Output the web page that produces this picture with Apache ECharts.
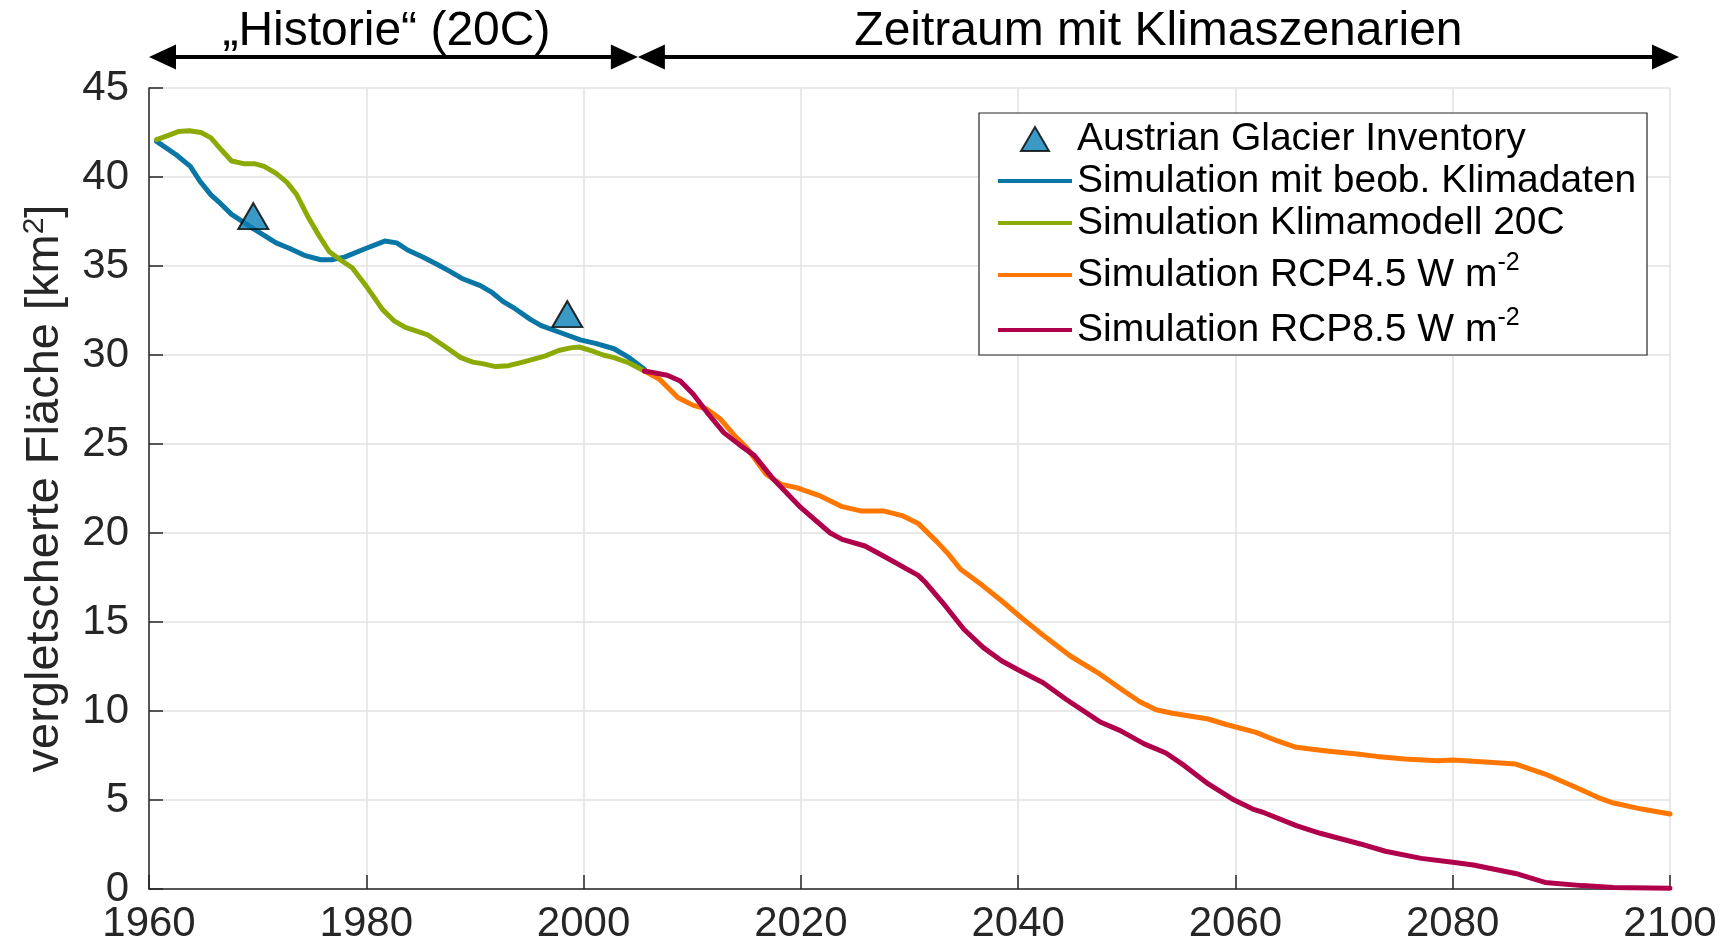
<!DOCTYPE html>
<html>
<head>
<meta charset="utf-8">
<script src="https://cdn.jsdelivr.net/npm/echarts@6/dist/echarts.min.js"></script>
<style>html,body{margin:0;padding:0;background:#fff}#c{width:1731px;height:945px}</style>
</head>
<body>
<div id="c"></div>
<script>
// ---------- data ----------
const inventoryYears = [1969.6, 1998.5];
const inventoryArea  = [37.8, 32.3];

const obsYears = [1960.7, 1962.5, 1963.8, 1964.7, 1965.7, 1966.6, 1967.6, 1969.6, 1971.7, 1972.9, 1974.3, 1975.8, 1976.8, 1978.0, 1980.0, 1981.7, 1982.8, 1983.8, 1985.2, 1986.5, 1987.7, 1988.8, 1990.5, 1991.6, 1992.6, 1993.7, 1995.1, 1996.1, 1997.9, 1999.7, 2001.1, 2002.8, 2004.2, 2005.6];
const obsArea  = [42.0, 41.25, 40.6, 39.75, 39.0, 38.5, 37.9, 37.1, 36.3, 36.0, 35.6, 35.35, 35.35, 35.5, 36.0, 36.4, 36.3, 35.9, 35.5, 35.1, 34.7, 34.3, 33.9, 33.5, 33.0, 32.6, 32.0, 31.65, 31.25, 30.85, 30.65, 30.35, 29.85, 29.2];

const mod20Years = [1960.7, 1961.6, 1962.7, 1963.7, 1964.8, 1965.7, 1966.7, 1967.6, 1968.7, 1969.7, 1970.6, 1971.7, 1972.7, 1973.6, 1974.6, 1975.7, 1976.6, 1977.6, 1978.7, 1979.9, 1981.5, 1982.6, 1983.6, 1985.6, 1987.3, 1988.7, 1989.8, 1990.8, 1991.9, 1993.1, 1994.4, 1996.5, 1997.7, 1998.8, 1999.6, 2000.7, 2001.8, 2002.8, 2004.2, 2005.6];
const mod20Area  = [42.1, 42.3, 42.55, 42.6, 42.5, 42.2, 41.5, 40.9, 40.75, 40.75, 40.6, 40.2, 39.7, 39.0, 37.8, 36.65, 35.8, 35.35, 34.9, 33.95, 32.55, 31.9, 31.55, 31.15, 30.45, 29.85, 29.6, 29.5, 29.35, 29.4, 29.6, 29.95, 30.25, 30.4, 30.45, 30.25, 30.0, 29.85, 29.55, 29.1];

const rcp45Years = [2005.6, 2007.0, 2008.7, 2010.1, 2011.3, 2012.6, 2014.0, 2015.0, 2016.8, 2018.2, 2019.6, 2021.7, 2023.8, 2025.5, 2027.6, 2029.4, 2030.8, 2032.6, 2033.6, 2034.7, 2036.7, 2038.5, 2040.3, 2042.0, 2044.8, 2047.5, 2049.7, 2051.2, 2052.7, 2054.2, 2057.5, 2059.0, 2061.9, 2063.8, 2065.6, 2068.2, 2071.2, 2073.0, 2075.6, 2078.6, 2080.0, 2083.0, 2085.8, 2088.5, 2091.1, 2093.7, 2094.8, 2097.4, 2100];
const rcp45Area  = [29.1, 28.63, 27.6, 27.17, 26.98, 26.4, 25.4, 24.8, 23.3, 22.73, 22.55, 22.1, 21.48, 21.24, 21.24, 20.96, 20.54, 19.46, 18.8, 17.96, 17.06, 16.18, 15.24, 14.4, 13.09, 12.08, 11.14, 10.52, 10.07, 9.87, 9.55, 9.27, 8.8, 8.33, 7.96, 7.77, 7.58, 7.45, 7.3, 7.21, 7.25, 7.13, 7.02, 6.46, 5.77, 5.06, 4.83, 4.49, 4.21];

const rcp85Years = [2005.6, 2007.7, 2008.9, 2010.1, 2011.5, 2012.9, 2014.3, 2015.7, 2017.5, 2020.0, 2022.7, 2023.8, 2025.9, 2027.6, 2030.8, 2031.5, 2033.3, 2035.0, 2036.8, 2038.5, 2040.2, 2042.3, 2044.4, 2047.5, 2049.4, 2051.6, 2053.6, 2055.3, 2057.5, 2059.7, 2061.6, 2062.7, 2065.6, 2067.8, 2071.5, 2073.8, 2077.1, 2080.0, 2081.9, 2086.0, 2088.5, 2091.9, 2094.8, 2100];
const rcp85Area  = [29.1, 28.86, 28.54, 27.79, 26.67, 25.64, 24.98, 24.36, 23.0, 21.42, 20.0, 19.64, 19.27, 18.71, 17.62, 17.2, 15.9, 14.59, 13.56, 12.81, 12.25, 11.59, 10.66, 9.4, 8.9, 8.15, 7.64, 6.93, 5.9, 5.06, 4.49, 4.27, 3.56, 3.13, 2.53, 2.12, 1.72, 1.5, 1.35, 0.84, 0.37, 0.19, 0.09, 0.04];

const xRange = [1960, 2100, 20];
const yRange = [0, 45, 5];
const splitYear = 2005;

const seriesNames = [
  'Austrian Glacier Inventory',
  'Simulation mit beob. Klimadaten',
  'Simulation Klimamodell 20C',
  'Simulation RCP4.5 W m-2',
  'Simulation RCP8.5 W m-2'
];
const periodLabels = ['\u201EHistorie\u201C (20C)', 'Zeitraum mit Klimaszenarien'];
const yTitle = 'vergletscherte Fl\u00E4che [km{sup|2}]';

// ---------- chart ----------
const FONT = '"Liberation Sans", Helvetica, Arial, sans-serif';
const LINE_W = 5;
const zip = (xs, ys) => xs.map((x, i) => [x, ys[i]]);
const lineSeries = (name, xs, ys, color) => ({
  name, type: 'line', data: zip(xs, ys), symbol: 'none', showSymbol: false, smooth: false,
  lineStyle: { color, width: LINE_W, join: 'round', cap: 'round' }, itemStyle: { color }, z: 2
});

const chart = echarts.init(document.getElementById('c'), null, { renderer: 'canvas' });

const legendText = {
  fontFamily: FONT, fontSize: 39, color: '#000', padding: [0, 0, 0, 0],
  rich: { sup: { fontFamily: FONT, fontSize: 25, lineHeight: 25, verticalAlign: 'top', color: '#000' } }
};
const lineIcon = 'path://M0,0 L74,0 L74,4 L0,4 Z';
const triIcon = 'path://M14,0 L28,24 L0,24 Z';
const legendItem = (name, icon) => ({ name, icon });

chart.setOption({
  animation: false,
  backgroundColor: '#fff',
  grid: { left: 149, right: 61, top: 88, bottom: 55, containLabel: false },
  xAxis: {
    type: 'value', min: xRange[0], max: xRange[1], interval: xRange[2],
    axisLine: { show: true, onZero: false, lineStyle: { color: '#262626', width: 1.5 } },
    axisTick: { show: true, inside: true, length: 14, lineStyle: { color: '#262626', width: 1.5 } },
    axisLabel: { fontFamily: FONT, fontSize: 42, color: '#262626', margin: 14, formatter: v => String(v) },
    splitLine: { show: true, lineStyle: { color: '#e2e2e2', width: 1.5 } }
  },
  yAxis: {
    type: 'value', min: yRange[0], max: yRange[1], interval: yRange[2],
    axisLine: { show: true, lineStyle: { color: '#262626', width: 1.5 } },
    axisTick: { show: true, inside: true, length: 14, lineStyle: { color: '#262626', width: 1.5 } },
    axisLabel: { fontFamily: FONT, fontSize: 42, color: '#262626', margin: 20, formatter: v => String(v) },
    splitLine: { show: true, lineStyle: { color: '#e2e2e2', width: 1.5 } },
    name: yTitle, nameLocation: 'middle', nameRotate: 90, nameGap: 66,
    nameTextStyle: {
      fontFamily: FONT, fontSize: 47, color: '#262626', lineHeight: 52,
      rich: { sup: { fontFamily: FONT, fontSize: 30, lineHeight: 30, verticalAlign: 'top', color: '#262626' } }
    }
  },
  legend: [
    {
      orient: 'vertical', left: 993, top: 114, itemWidth: 74, itemHeight: 24, itemGap: 2,
      data: [legendItem(seriesNames[0], triIcon), legendItem(seriesNames[1], lineIcon), legendItem(seriesNames[2], lineIcon)],
      selectedMode: false, z: 5,
      textStyle: Object.assign({ lineHeight: 40 }, legendText)
    },
    {
      orient: 'vertical', left: 993, top: 246, itemWidth: 74, itemHeight: 24, itemGap: 7,
      data: [legendItem(seriesNames[3], lineIcon), legendItem(seriesNames[4], lineIcon)],
      selectedMode: false, z: 5,
      formatter: n => n.replace('m-2', 'm{sup|-2}'),
      textStyle: Object.assign({ lineHeight: 48 }, legendText)
    }
  ],
  series: [
    lineSeries(seriesNames[1], obsYears, obsArea, '#0A76A6'),
    lineSeries(seriesNames[2], mod20Years, mod20Area, '#8BAA05'),
    lineSeries(seriesNames[3], rcp45Years, rcp45Area, '#FF7700'),
    lineSeries(seriesNames[4], rcp85Years, rcp85Area, '#B0004C'),
    {
      name: seriesNames[0], type: 'scatter', data: zip(inventoryYears, inventoryArea),
      symbol: 'triangle', symbolSize: [30, 26], z: 4,
      itemStyle: { color: '#0A80B8', borderColor: '#000', borderWidth: 2 }
    }
  ]
});

// ---------- legend frame and period arrows (positions from the axes) ----------
const px = v => chart.convertToPixel({ gridIndex: 0 }, [v, yRange[1]]);
const xL = px(xRange[0])[0];
const xS = px(splitYear)[0];
const xR = px(xRange[1])[0] + 9;
const ay = 57, hl = 27, hh = 12.5;
const head = (tip, dir) => ({
  type: 'polygon', z: 10,
  shape: { points: [[tip, ay], [tip + dir * hl, ay - hh], [tip + dir * hl, ay + hh]] },
  style: { fill: '#000' }
});
const shaft = (a, b) => ({
  type: 'line', z: 10, shape: { x1: a, y1: ay, x2: b, y2: ay },
  style: { stroke: '#000', lineWidth: 4 }
});
const label = (text, cx) => ({
  type: 'text', z: 10,
  style: { text, x: cx, y: 56, font: '48px ' + FONT, fill: '#000', textAlign: 'center', textVerticalAlign: 'bottom' }
});

chart.setOption({
  graphic: [
    { type: 'rect', z: 3, shape: { x: 979, y: 113, width: 668, height: 242 },
      style: { fill: '#fff', stroke: '#262626', lineWidth: 1.2 } },
    shaft(xL + 10, xS - 10), head(xL, 1), head(xS, -1),
    shaft(xS + 10, xR - 10), head(xS, 1), head(xR, -1),
    label(periodLabels[0], (xL + xS) / 2 - 7),
    label(periodLabels[1], (xS + xR) / 2)
  ]
});
</script>
</body>
</html>
